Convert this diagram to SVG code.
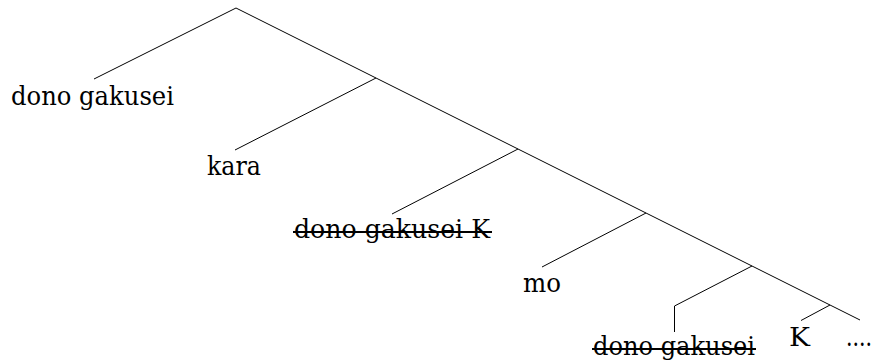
<svg xmlns="http://www.w3.org/2000/svg" width="876" height="362" viewBox="0 0 876 362">
<style>
.t{font-family:'DejaVu Serif','Times New Roman',Times,serif;font-size:26px;fill:#000}
.e{stroke:#000;stroke-width:1;fill:none}
.s{stroke:#000;stroke-width:1.8}
</style>
<rect width="876" height="362" fill="#fff"/>
<g id="connectors">
<path class="e" d="M236,8 L94,79"/>
<path class="e" d="M236,8 L860,320"/>
<path class="e" d="M376,78 L235,150"/>
<path class="e" d="M518,149 L392,214"/>
<path class="e" d="M646,213 L542,267"/>
<path class="e" d="M752,266 L674.5,306 L674.5,332"/>
<path class="e" d="M830,305 L801,320.5"/>
</g>
<g id="n1"><text class="t" x="11" y="105" textLength="163" lengthAdjust="spacingAndGlyphs">dono gakusei</text></g>
<g id="n2"><text class="t" x="207" y="175" textLength="54" lengthAdjust="spacingAndGlyphs">kara</text></g>
<g id="n3"><text class="t" x="294" y="238" textLength="196" lengthAdjust="spacingAndGlyphs">dono gakusei K</text><line class="s" x1="293" y1="232" x2="492" y2="232"/></g>
<g id="n4"><text class="t" x="523" y="291.5" textLength="38" lengthAdjust="spacingAndGlyphs">mo</text></g>
<g id="n5"><text class="t" x="593" y="355" textLength="162" lengthAdjust="spacingAndGlyphs">dono gakusei</text><line class="s" x1="592" y1="349" x2="756" y2="349"/></g>
<g id="n6"><text class="t" x="789" y="346" textLength="21" lengthAdjust="spacingAndGlyphs">K</text></g>
<g id="n7"><text class="t" x="846" y="346" textLength="26" lengthAdjust="spacingAndGlyphs">....</text></g>
</svg>
